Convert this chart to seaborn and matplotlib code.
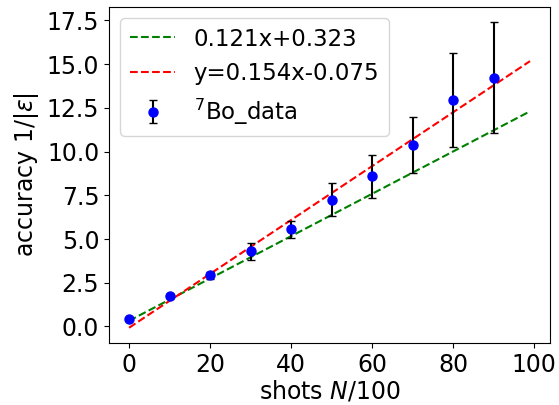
import numpy as np
import matplotlib
matplotlib.use("Agg")
import matplotlib.pyplot as plt
import seaborn as sb

# Data
shots = [0, 10, 20, 30, 40, 50, 60, 70, 80, 90]
accuracy = [0.42, 1.73, 2.92, 4.29, 5.55, 7.24, 8.6, 10.4, 12.96, 14.22]
errors = [0.05, 0.12, 0.2, 0.47, 0.5, 0.94, 1.23, 1.6, 2.7, 3.18]

# Fit lines (slope, intercept) as given in the legend
fit_green = (0.121, 0.323)
fit_red = (0.154, -0.075)
fit_x = [0, 99]

sb.set_style("ticks")
plt.rcParams["font.family"] = ["DejaVu Sans"]
plt.rcParams["mathtext.fontset"] = "dejavusans"
for key in ["text.color", "axes.labelcolor", "xtick.color", "ytick.color",
            "axes.edgecolor"]:
    plt.rcParams[key] = "black"

fs = 17
fig, ax = plt.subplots(figsize=(5.59, 4.05), dpi=100)
fig.subplots_adjust(left=0.195, right=0.984, bottom=0.153, top=0.983)

xs = np.array(fit_x)
sb.lineplot(x=xs, y=fit_green[0] * xs + fit_green[1], ax=ax, color="green",
            linestyle="--", label="0.121x+0.323")
sb.lineplot(x=xs, y=fit_red[0] * xs + fit_red[1], ax=ax, color="red",
            linestyle="--", label="y=0.154x-0.075")
ax.errorbar(shots, accuracy, yerr=errors, fmt="o", color="blue", ecolor="black",
            capsize=3, elinewidth=1.5, markersize=6.5, label="$^7$Bo_data")

ax.set_xlabel("shots $N$/100", fontsize=fs, labelpad=1)
ax.set_ylabel(r"accuracy $1/|\varepsilon|$", fontsize=fs)
ax.tick_params(labelsize=fs, color="black")
ax.set_yticks(np.arange(0, 17.6, 2.5))
ax.set_xticks(np.arange(0, 101, 20))
ax.legend(fontsize=16.5, loc="upper left")

for s in ax.spines.values():
    s.set_visible(True)
    s.set_color("black")

plt.savefig("out.png", dpi=100)
